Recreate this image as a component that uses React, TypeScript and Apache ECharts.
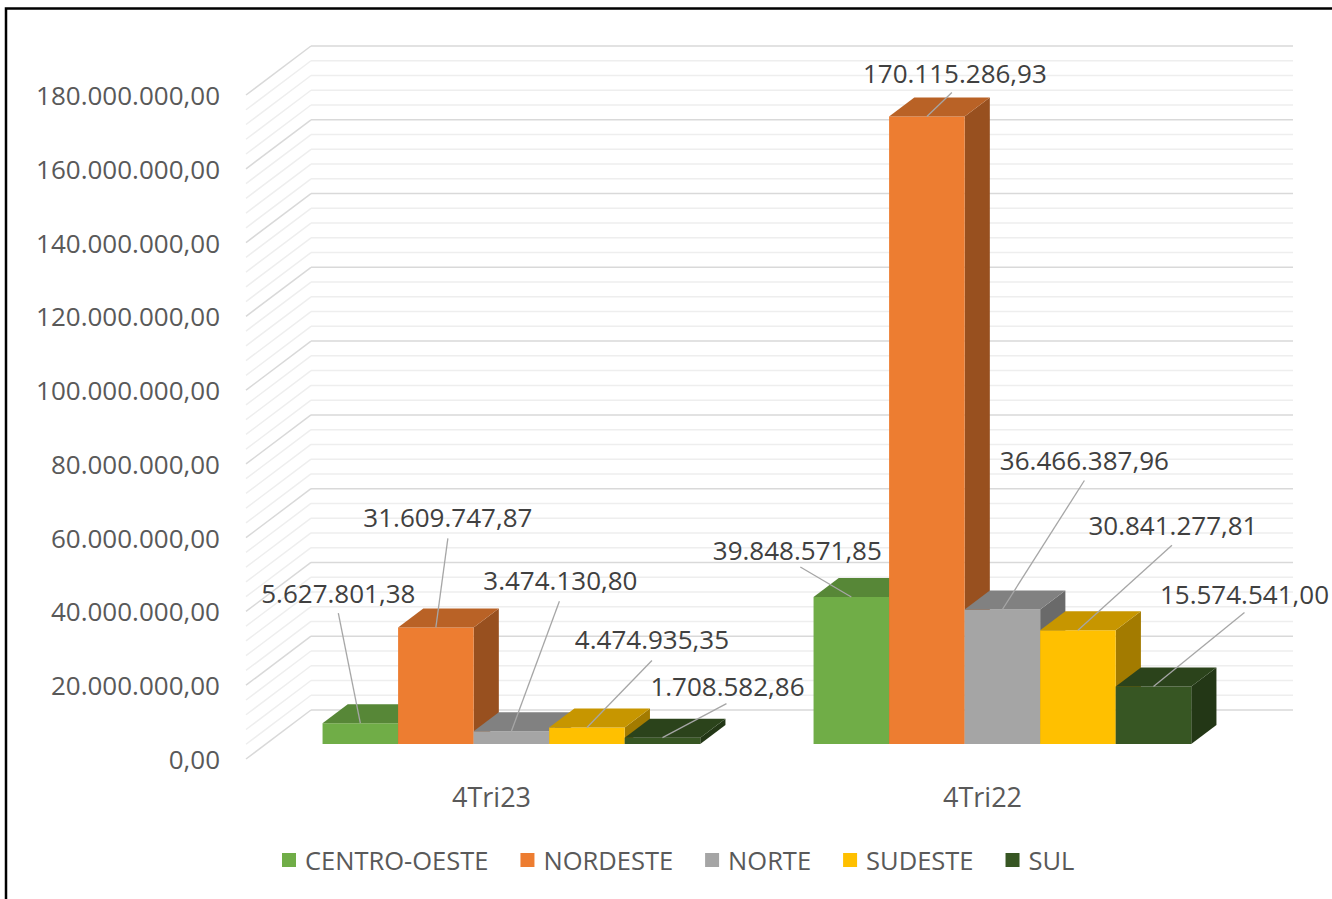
import React, { useEffect, useRef } from "react";
import * as echarts from "echarts";

// ---------- data ----------
const categories = ["4Tri23", "4Tri22"];
const regions = ["CENTRO-OESTE", "NORDESTE", "NORTE", "SUDESTE", "SUL"];
const centroOeste = [5627801.38, 39848571.85];
const nordeste = [31609747.87, 170115286.93];
const norte = [3474130.8, 36466387.96];
const sudeste = [4474935.35, 30841277.81];
const sul = [1708582.86, 15574541.0];
const seriesValues = [centroOeste, nordeste, norte, sudeste, sul];

const yMin = 0;
const yMax = 180000000;
const yInterval = 20000000;
const yMinorInterval = 4000000;

// ---------- styles ----------
const frontColors = ["#70ad47", "#ed7d31", "#a5a5a5", "#ffc000", "#375623"];
const FONT = "'Open Sans', 'Noto Sans', sans-serif";
// depth of the whole 3D box (px) and bar placement inside it
const DEPTH_X = 65;
const DEPTH_Y = -49;
const BAR_FRONT = 15 / 49; // fraction of depth where bar front face sits
const BAR_DEPTH = 19 / 49; // fraction of depth the bar occupies
const GAP_RATIO = 1.5; // gap width relative to one bar

// label offsets relative to bar's front-top-centre: [textDx, textDy, lineDx, lineDy]
const labelOffsets: number[][][] = [
  // region -> category
  [[-22, -130, -22, -110], [-54, -47, -51, -30]],
  [[12, -110, 12, -89], [28, -43, 25, -24]],
  [[49, -151, 48, -130], [82, -149, 82, -129]],
  [[65, -88, 65, -67], [95, -105, 94, -85]],
  [[65, -52, 64, -34], [91, -93, 91, -74]],
];

function shade(hex: string, k: number) {
  const n = parseInt(hex.slice(1), 16);
  const r = Math.round(((n >> 16) & 255) * k);
  const g = Math.round(((n >> 8) & 255) * k);
  const b = Math.round((n & 255) * k);
  return `rgb(${r},${g},${b})`;
}

function fmt(v: number) {
  const [i, d] = v.toFixed(2).split(".");
  return i.replace(/\B(?=(\d{3})+(?!\d))/g, ".") + "," + d;
}

function barGeom(api: any, region: number) {
  const cat = api.value(0);
  const val = api.value(1);
  const top = api.coord([cat, val]);
  const base = api.coord([cat, 0]);
  const band = api.size([1, 0])[0];
  const n = regions.length;
  const bw = band / (n + GAP_RATIO);
  const fx = DEPTH_X * BAR_FRONT;
  const fy = DEPTH_Y * BAR_FRONT;
  const dx = DEPTH_X * BAR_DEPTH;
  const dy = DEPTH_Y * BAR_DEPTH;
  const L = top[0] - (n / 2) * bw + region * bw + fx;
  const yT = top[1] + fy;
  const yB = base[1] + fy;
  return { L, yT, yB, bw, dx, dy };
}

export default function App() {
  const ref = useRef<HTMLDivElement>(null);
  useEffect(() => {
    if (!ref.current) return;
    const chart = echarts.init(ref.current, undefined, { renderer: "svg" });

    const wallSeries: any = {
      type: "custom",
      name: "walls",
      silent: true,
      clip: false,
      z: 1,
      data: [[0, 0]],
      renderItem: (params: any, api: any) => {
        const cs = params.coordSys;
        const minor: any[] = [];
        const major: any[] = [];
        for (let v = yMin; v <= yMax + 1; v += yMinorInterval) {
          const y = api.coord([0, v])[1];
          const isMajor = Math.round(v / yMinorInterval) % Math.round(yInterval / yMinorInterval) === 0;
          const style = { stroke: isMajor ? "#d9d9d9" : "#eeeeee", lineWidth: 1.5, fill: null };
          const arr = isMajor ? major : minor;
          arr.push({ type: "line", shape: { x1: cs.x, y1: y, x2: cs.x + DEPTH_X, y2: y + DEPTH_Y }, style });
          arr.push({
            type: "line",
            shape: { x1: cs.x + DEPTH_X, y1: y + DEPTH_Y, x2: cs.x + cs.width + DEPTH_X, y2: y + DEPTH_Y },
            style,
          });
        }
        return { type: "group", children: [...minor, ...major] };
      },
    };

    const barSeries: any[] = regions.map((name, r) => ({
      type: "custom",
      name,
      clip: false,
      z: 2,
      itemStyle: { color: frontColors[r] },
      data: seriesValues[r].map((v, i) => [i, v]),
      renderItem: (_params: any, api: any) => {
        const { L, yT, yB, bw, dx, dy } = barGeom(api, r);
        const front = frontColors[r];
        return {
          type: "group",
          children: [
            {
              type: "polygon",
              shape: { points: [[L + bw, yT], [L + bw + dx, yT + dy], [L + bw + dx, yB + dy], [L + bw, yB]] },
              style: { fill: shade(front, 0.64) },
            },
            {
              type: "rect",
              shape: { x: L, y: yT, width: bw, height: yB - yT },
              style: { fill: front },
            },
            {
              type: "polygon",
              shape: { points: [[L, yT], [L + bw, yT], [L + bw + dx, yT + dy], [L + dx, yT + dy]] },
              style: { fill: shade(front, 0.78) },
            },
          ],
        };
      },
    }));

    const labelData: number[][] = [];
    regions.forEach((_, r) => seriesValues[r].forEach((v, i) => labelData.push([i, v, r])));

    const labelSeries: any = {
      type: "custom",
      name: "labels",
      silent: true,
      clip: false,
      z: 5,
      data: labelData,
      renderItem: (_params: any, api: any) => {
        const r = api.value(2);
        const cat = api.value(0);
        const { L, yT, bw } = barGeom(api, r);
        const ax = L + bw / 2;
        const ay = yT;
        const [tx, ty, lx, ly] = labelOffsets[r][cat];
        return {
          type: "group",
          children: [
            {
              type: "line",
              shape: { x1: ax + lx, y1: ay + ly, x2: ax, y2: ay },
              style: { stroke: "#a6a6a6", lineWidth: 1.3 },
            },
            {
              type: "text",
              x: ax + tx,
              y: ay + ty,
              style: {
                text: fmt(api.value(1)),
                fill: "#404040",
                font: `26px ${FONT}`,
                align: "center",
                verticalAlign: "middle",
              },
            },
          ],
        };
      },
    };

    chart.setOption({
      animation: false,
      backgroundColor: "#ffffff",
      graphic: [
        {
          type: "rect",
          shape: { x: 6, y: 8.5, width: 1400, height: 1000 },
          style: { fill: null, stroke: "#000000", lineWidth: 2.5 },
          silent: true,
        },
      ],
      grid: { left: 246, top: 95, width: 982, height: 664 },
      xAxis: {
        type: "category",
        data: categories,
        axisLine: { show: false },
        axisTick: { show: false },
        splitLine: { show: false },
        axisLabel: { color: "#595959", fontSize: 27, fontFamily: FONT, margin: 24 },
      },
      yAxis: {
        type: "value",
        min: yMin,
        max: yMax,
        interval: yInterval,
        axisLine: { show: false },
        axisTick: { show: false },
        splitLine: { show: false },
        axisLabel: {
          color: "#595959",
          fontSize: 26,
          fontFamily: FONT,
          margin: 26,
          formatter: (v: number) => fmt(v),
        },
      },
      legend: {
        data: regions,
        icon: "rect",
        itemWidth: 14,
        itemHeight: 14,
        itemGap: 32,
        left: 282,
        top: 847,
        padding: 0,
        selectedMode: false,
        textStyle: { color: "#595959", fontSize: 25.5, fontFamily: FONT, padding: [0, 0, 0, 4] },
      },
      series: [wallSeries, ...barSeries, labelSeries],
    });

    return () => chart.dispose();
  }, []);

  return (
    <div
      ref={ref}
      style={{ position: "fixed", left: 0, top: 0, width: 1332, height: 899, background: "#fff" }}
    />
  );
}
